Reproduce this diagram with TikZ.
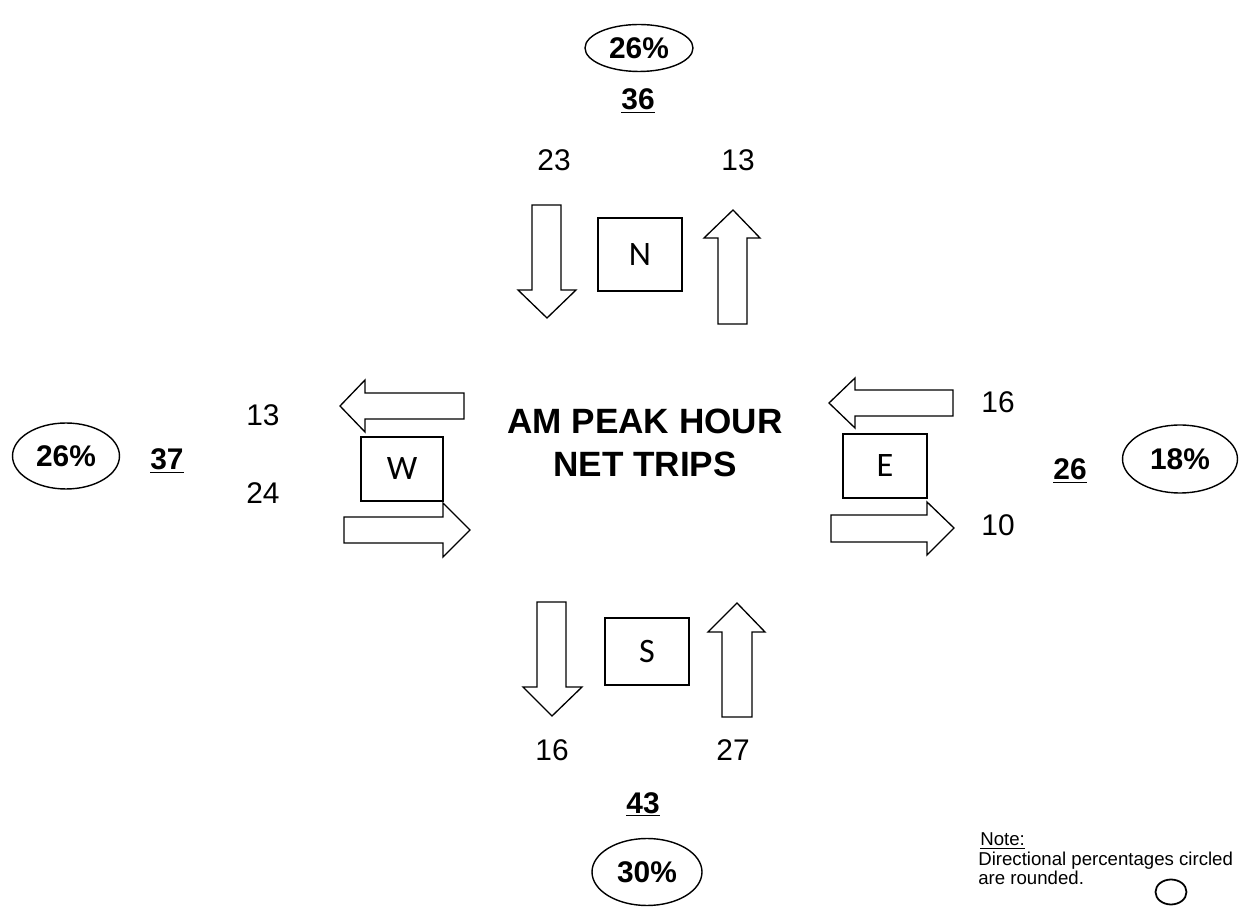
\documentclass[tikz,border=0pt]{standalone}
\usepackage{fontspec}
\setmainfont{Liberation Sans}
\newfontfamily\boxfont{Carlito}
\usetikzlibrary{shapes.geometric}
\begin{document}
\begin{tikzpicture}[x=0.02cm,y=-0.02cm,
  num/.style={font=\fontsize{17}{20}\selectfont, inner sep=0pt},
  tot/.style={font=\fontsize{17}{20}\selectfont\bfseries, inner sep=0pt, anchor=base},
  pct/.style={ellipse, draw, line width=0.8pt, inner sep=0pt, font=\fontsize{17}{20}\selectfont\bfseries},
  dirbox/.style={draw, line width=1.1pt, inner sep=0pt, font=\boxfont\fontsize{19.5}{22}\selectfont},
  flow/.style={draw, line width=0.75pt, line join=miter, fill=white},
  title/.style={font=\fontsize{20}{24}\selectfont\bfseries, inner sep=0pt},
  note/.style={font=\fontsize{10.6}{12}\selectfont, inner sep=0pt, anchor=base west}
]
\fill[white] (0,0) rectangle (1241,911);
\useasboundingbox (0,0) rectangle (1241,911);

% percentages
\node[pct, minimum width=2.16cm, minimum height=0.94cm] (pN) at (639,48) {26\%};
\node[pct, minimum width=2.14cm, minimum height=1.32cm] (pW) at (66,456) {26\%};
\node[pct, minimum width=2.3cm, minimum height=1.36cm] (pE) at (1180,459) {18\%};
\node[pct, minimum width=2.2cm, minimum height=1.34cm] (pS) at (647,872) {30\%};

% totals
\node[tot] (tN) at (638,110) {\underline{36}};
\node[tot] (tW) at (167,470) {\underline{37}};
\node[tot] (tE) at (1070,480) {\underline{26}};
\node[tot] (tS) at (643,813) {\underline{43}};

% approach / departure counts
\node[num] (nIn) at (554,160) {23};
\node[num] (nOut) at (738,160) {13};
\node[num] (wOut) at (263,415) {13};
\node[num] (wIn) at (263,493) {24};
\node[num] (eIn) at (998,402) {16};
\node[num] (eOut) at (998,525) {10};
\node[num] (sIn) at (552,750) {16};
\node[num] (sOut) at (733,750) {27};

% direction boxes
\node[dirbox, minimum width=1.68cm, minimum height=1.46cm] (bN) at (640,254.5) {N};
\node[dirbox, minimum width=1.64cm, minimum height=1.28cm] (bW) at (402,469) {W};
\node[dirbox, minimum width=1.68cm, minimum height=1.28cm] (bE) at (885,466) {E};
\node[dirbox, minimum width=1.68cm, minimum height=1.34cm] (bS) at (647,651.5) {S};

% title
\node[title] (t1) at (645,421) {AM PEAK HOUR};
\node[title] (t2) at (645,464) {NET TRIPS};

% arrows
\draw[flow] (532,205) -- (561,205) -- (561,290) -- (576,290) -- (547,318) -- (518,290) -- (532,290) -- cycle;
\draw[flow] (718,324) -- (747,324) -- (747,238) -- (760,238) -- (733,210) -- (704,238) -- (718,238) -- cycle;
\draw[flow] (464,393) -- (464,419) -- (365,419) -- (365,432) -- (340,406) -- (365,380) -- (365,393) -- cycle;
\draw[flow] (344,517) -- (443,517) -- (443,503) -- (470,530) -- (443,557) -- (443,543) -- (344,543) -- cycle;
\draw[flow] (953,390) -- (953,416) -- (855,416) -- (855,428) -- (829,403) -- (855,378) -- (855,390) -- cycle;
\draw[flow] (831,515) -- (927,515) -- (927,502) -- (954,528) -- (927,555) -- (927,542) -- (831,542) -- cycle;
\draw[flow] (537,602) -- (566,602) -- (566,687) -- (582,687) -- (552,716) -- (523,687) -- (537,687) -- cycle;
\draw[flow] (722,717) -- (752,717) -- (752,632) -- (765,632) -- (737,603) -- (708,632) -- (722,632) -- cycle;

% note
\node[note] (nt1) at (980,846) {\underline{Note:}};
\node[note] (nt2) at (978,865) {Directional percentages circled};
\node[note] (nt3) at (978,884) {are rounded.};
\node[ellipse, draw, line width=1pt, minimum width=0.62cm, minimum height=0.5cm, inner sep=0pt] (nc) at (1171,892) {};
\end{tikzpicture}
\end{document}
